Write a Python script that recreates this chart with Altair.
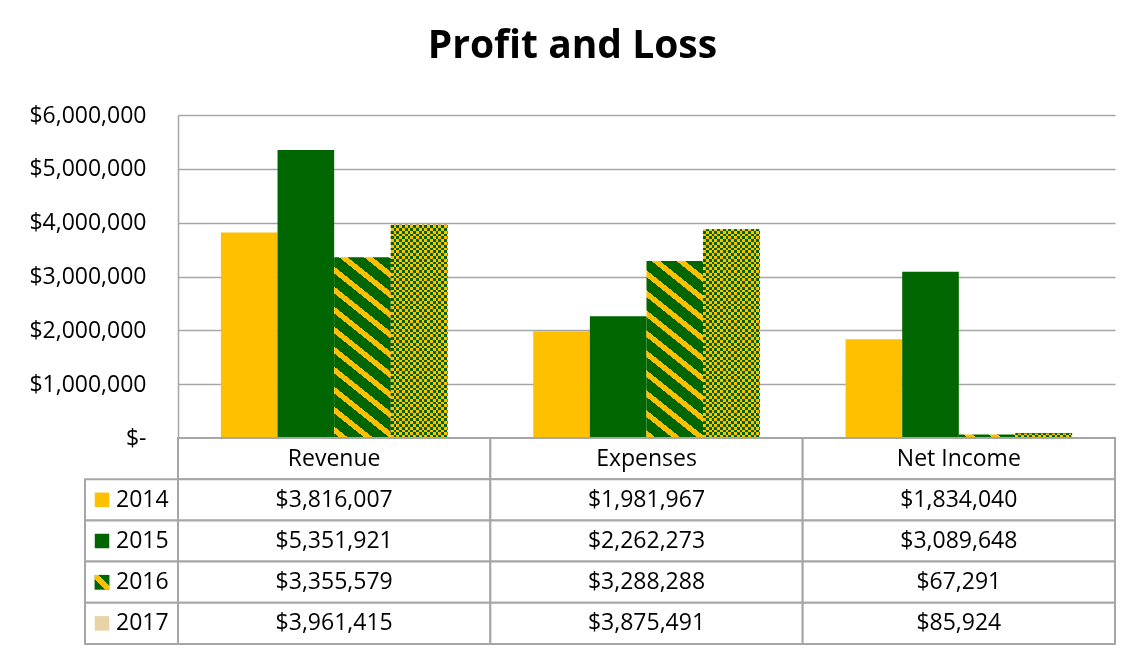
import math
import altair as alt
import pandas as pd

# ---------------- data ----------------
categories = ["Revenue", "Expenses", "Net Income"]
years = ["2014", "2015", "2016", "2017"]
revenue = [3816007, 5351921, 3355579, 3961415]
expenses = [1981967, 2262273, 3288288, 3875491]
net_income = [1834040, 3089648, 67291, 85924]
y_ticks = [0, 1000000, 2000000, 3000000, 4000000, 5000000, 6000000]
title_text = "Profit and Loss"

# ---------------- style ----------------
YELLOW = "#FFC000"
GREEN = "#006600"
TAN = "#E9D2A6"
LINE = "#A6A6A6"
FONT = "Open Sans"
FS = 23

PLOT_W = 937
PLOT_H = 323
TABLE_H = 206
Y_MAX = y_ticks[-1]
P_INNER = 0.2747
P_OUTER = P_INNER / 2
STEP = PLOT_W / len(categories)
BAR_W = STEP * (1 - P_INNER) / len(years)

series = {c: v for c, v in zip(categories, [revenue, expenses, net_income])}
df = pd.DataFrame(
    [{"Category": c, "Year": y, "Value": v} for c in categories for y, v in zip(years, series[c])]
)


def bar_h(v):
    return v / Y_MAX * PLOT_H


# ---------- pattern fills (gradients) ----------
def diag_gradient(h, w=BAR_W, a=25.0, b=20.0, fy=0.34, phase=0.2):
    # stripes "\" : f = x/a - y/b (y from bar top)
    A, B = w / a, h / b
    R, S = A + B, A * A + B * B
    k = R / S
    fmin, fmax = -B, A

    def col(f):
        return YELLOW if ((f - phase) % 1.0) < fy else GREEN

    bnds = []
    for n in range(math.floor(fmin - phase) - 1, math.ceil(fmax - phase) + 2):
        for off in (0.0, fy):
            fb = n + phase + off
            if fmin < fb < fmax:
                bnds.append(fb)
    bnds.sort()
    stops = [{"offset": 0, "color": col(fmin + 1e-9)}]
    for fb in bnds:
        t = round((fb - fmin) / R, 6)
        stops.append({"offset": t, "color": col(fb - 1e-9)})
        stops.append({"offset": t, "color": col(fb + 1e-9)})
    stops.append({"offset": 1, "color": col(fmax - 1e-9)})
    return alt.LinearGradient(gradient="linear", x1=0, y1=1, x2=k * A, y2=1 - k * B, stops=stops)


def stripes(length, cell, first, second, vertical):
    n = int(math.ceil(length / cell))
    stops = []
    for i in range(n):
        c = first if i % 2 == 0 else second
        t0 = round(min(i * cell / length, 1), 6)
        t1 = round(min((i + 1) * cell / length, 1), 6)
        stops += [{"offset": t0, "color": c}, {"offset": t1, "color": c}]
    if vertical:  # bands stacked bottom->top
        return alt.LinearGradient(gradient="linear", x1=0, y1=1, x2=0, y2=0, stops=stops)
    return alt.LinearGradient(gradient="linear", x1=0, y1=0, x2=1, y2=0, stops=stops)


swatch16 = alt.LinearGradient(
    gradient="linear", x1=0, y1=1, x2=1, y2=0,
    stops=[{"offset": 0, "color": GREEN}, {"offset": 0.36, "color": GREEN},
           {"offset": 0.36, "color": YELLOW}, {"offset": 0.64, "color": YELLOW},
           {"offset": 0.64, "color": GREEN}, {"offset": 1, "color": GREEN}],
)

CHECK = 2.8

# ---------------- top: bars ----------------
year_scale = alt.Scale(domain=years, range=[YELLOW, GREEN, GREEN, TAN])
x_enc = alt.X("Category:N", sort=categories,
              scale=alt.Scale(domain=categories, paddingInner=P_INNER, paddingOuter=P_OUTER),
              axis=None)
xo_enc = alt.XOffset("Year:N", scale=alt.Scale(domain=years, paddingInner=0, paddingOuter=0))
y_enc = alt.Y(
    "Value:Q",
    scale=alt.Scale(domain=[0, Y_MAX], nice=False),
    axis=alt.Axis(
        values=y_ticks, title=None,
        labelExpr="datum.value == 0 ? '$-\u00a0\u00a0' : format(datum.value, '$,.0f')",
        labelFont=FONT, labelFontSize=FS, labelColor="black", labelPadding=32,
        ticks=False, domainColor=LINE, domainWidth=1.5,
        gridColor=LINE, gridWidth=1.5,
    ),
)
base = alt.Chart(df).encode(x=x_enc, xOffset=xo_enc, y=y_enc)

layers = [
    base.mark_bar().encode(fill=alt.Fill("Year:N", scale=year_scale, legend=None))
    .transform_filter("datum.Year === '2014' || datum.Year === '2015'")
]
for c in categories:
    v16 = series[c][years.index("2016")]
    layers.append(
        base.mark_bar(fill=diag_gradient(bar_h(v16)))
        .transform_filter(f"datum.Year === '2016' && datum.Category === '{c}'")
    )
# 2017: small checkerboard built as XOR of row and column stripes
for c in categories:
    v17 = series[c][years.index("2017")]
    layers.append(
        base.mark_bar(fill=stripes(bar_h(v17), CHECK, "#ffffff", "#000000", True))
        .transform_filter(f"datum.Year === '2017' && datum.Category === '{c}'")
    )
f17 = "datum.Year === '2017'"
layers.append(base.mark_bar(fill=stripes(BAR_W, CHECK, "#000000", "#ffffff", False),
                            blend="difference").transform_filter(f17))
layers.append(base.mark_bar(fill=YELLOW, blend="multiply").transform_filter(f17))
layers.append(base.mark_bar(fill=GREEN, blend="lighten").transform_filter(f17))

top = alt.layer(*layers).properties(width=PLOT_W, height=PLOT_H)

# ---------------- bottom: data table ----------------
row_domain = ["hdr"] + years
hdr = pd.DataFrame({"Category": categories, "Row": ["hdr"] * 3, "Value": [0] * 3})
tdf = pd.concat([hdr, df.rename(columns={"Year": "Row"})], ignore_index=True)
leg = pd.DataFrame({"Row": years, "Year": years})

tx = alt.X("Category:N", sort=categories,
           scale=alt.Scale(domain=categories, paddingInner=0, paddingOuter=0), axis=None)
ty = alt.Y("Row:N", sort=row_domain,
           scale=alt.Scale(domain=row_domain, paddingInner=0, paddingOuter=0), axis=None)

cells = alt.Chart(tdf).mark_rect(fill="white", stroke=LINE, strokeWidth=2).encode(x=tx, y=ty)
vals = (
    alt.Chart(tdf)
    .transform_calculate(Label="datum.Row === 'hdr' ? datum.Category : format(datum.Value, '$,.0f')")
    .mark_text(font=FONT, fontSize=FS, color="black", baseline="middle", align="center")
    .encode(x=tx, y=ty, text="Label:N")
)
leg_cells = alt.Chart(leg).mark_rect(fill="white", stroke=LINE, strokeWidth=2).encode(
    x=alt.value(-93), x2=alt.value(0), y=ty)
sw = alt.Chart(leg).mark_point(shape="square", filled=True, size=210, strokeWidth=0, opacity=1).encode(
    x=alt.value(-76), y=ty, fill=alt.Fill("Year:N", scale=year_scale, legend=None))
sw16 = alt.Chart(leg).transform_filter("datum.Year === '2016'").mark_point(
    shape="square", filled=True, size=210, strokeWidth=0, opacity=1, fill=swatch16).encode(
    x=alt.value(-76), y=ty)
ylab = alt.Chart(leg).mark_text(font=FONT, fontSize=FS, color="black", align="left",
                                baseline="middle").encode(x=alt.value(-62), y=ty, text="Year:N")

table = alt.layer(cells, vals, leg_cells, sw, sw16, ylab).properties(width=PLOT_W, height=TABLE_H)

chart = (
    alt.vconcat(top, table, spacing=0, bounds="flush")
    .properties(
        title=alt.TitleParams(title_text, font=FONT, fontSize=39, fontWeight="bold", color="black",
                              anchor="middle", frame="bounds", offset=38),
        padding={"left": 20, "top": 19, "right": 5, "bottom": 5},
        background="white",
    )
    .configure_view(stroke=None)
)

chart.save("out.html", embed_options={"renderer": "svg", "actions": False})
